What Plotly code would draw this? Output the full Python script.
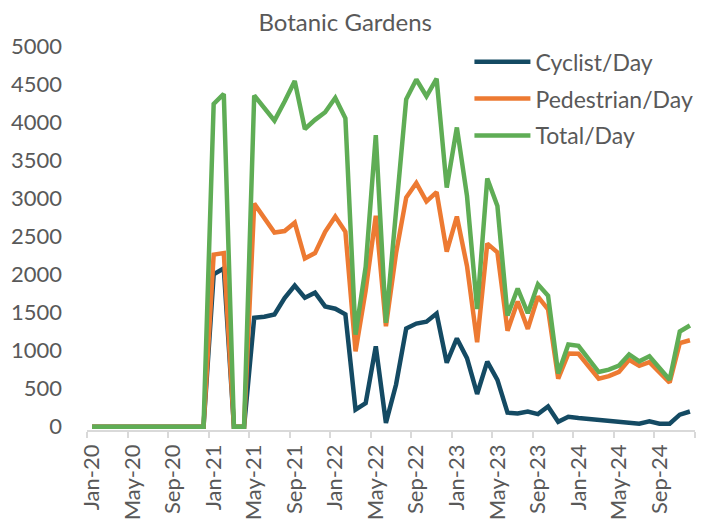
import plotly.graph_objects as go

# months Jan-20 .. Dec-24
years = ["20", "21", "22", "23", "24"]
month_names = ["Jan", "Feb", "Mar", "Apr", "May", "Jun",
               "Jul", "Aug", "Sep", "Oct", "Nov", "Dec"]
months = [f"{m}-{y}" for y in years for m in month_names]

cyclist = [0] * 12 + [
    2000, 2080, 0, 0, 1430, 1445, 1475, 1690, 1855, 1695, 1760, 1580,
    1550, 1475, 225, 310, 1055, 50, 555, 1290, 1355, 1380, 1487, 840,
    1160, 900, 430, 855, 615, 185, 175, 200, 165, 265, 65, 130,
    114, 103, 86, 80, 65, 50, 40, 70, 40, 40, 158, 200,
]
pedestrian = [0] * 12 + [
    2260, 2280, 0, 0, 2930, 2750, 2550, 2570, 2680, 2210, 2280, 2560,
    2760, 2560, 990, 1790, 2770, 1320, 2280, 3010, 3200, 2960, 3080, 2300,
    2760, 2110, 1110, 2405, 2290, 1260, 1645, 1285, 1710, 1540, 630, 960,
    958, 794, 630, 665, 720, 880, 800, 848, 710, 580, 1100, 1136,
]
total = [0] * 12 + [
    4240, 4370, 0, 0, 4350, 4190, 4020, 4270, 4540, 3910, 4030, 4130,
    4320, 4050, 1210, 2100, 3830, 1365, 2830, 4300, 4560, 4340, 4570, 3140,
    3930, 3030, 1545, 3260, 2900, 1460, 1815, 1490, 1870, 1720, 700, 1080,
    1062, 895, 718, 750, 803, 950, 859, 925, 775, 618, 1250, 1330,
]

series = [
    ("Cyclist/Day", cyclist, "#144A63"),
    ("Pedestrian/Day", pedestrian, "#ED7A32"),
    ("Total/Day", total, "#5FAD55"),
]

grey = "#595959"
font_family = "Lato, 'Open Sans', sans-serif"

fig = go.Figure()
for name, values, color in series:
    fig.add_trace(go.Scatter(x=months, y=values, name=name, mode="lines",
                             legendgroup=name,
                             line=dict(color=color, width=4.5)))

# the page adds an 8px body margin, so margins are trimmed by 8px
fig.update_layout(
    width=707, height=524,
    margin=dict(l=79, r=20, t=38, b=102, autoexpand=False),
    paper_bgcolor="white", plot_bgcolor="white",
    font=dict(family=font_family, color=grey, size=22),
    title=dict(text="Botanic Gardens", x=0.477, xanchor="center",
               y=0.973, yanchor="middle", yref="container",
               font=dict(size=24, color=grey)),
    showlegend=True,
    legend=dict(x=0.629, xanchor="left", y=1.015, yanchor="top",
                bgcolor="rgba(0,0,0,0)", tracegroupgap=4, itemwidth=56,
                font=dict(size=23, color=grey)),
)

fig.update_xaxes(
    type="category", categoryorder="array", categoryarray=months,
    range=[-0.5, len(months) - 0.5], automargin=False,
    tickson="boundaries", dtick=4, tickangle=-90,
    ticks="outside", ticklen=6, tickcolor="#D9D9D9", tickwidth=1.5,
    showline=True, linecolor="#D9D9D9", linewidth=1.5,
    showgrid=False, zeroline=False, ticklabelstandoff=4,
    tickfont=dict(size=22, color=grey),
)
fig.update_yaxes(
    range=[-43, 5000], tickvals=list(range(0, 5001, 500)), automargin=False,
    showgrid=False, zeroline=False, showline=False, ticks="",
    ticklabelstandoff=24,
    tickfont=dict(size=22, color=grey),
)

fig.write_html("out.html")
